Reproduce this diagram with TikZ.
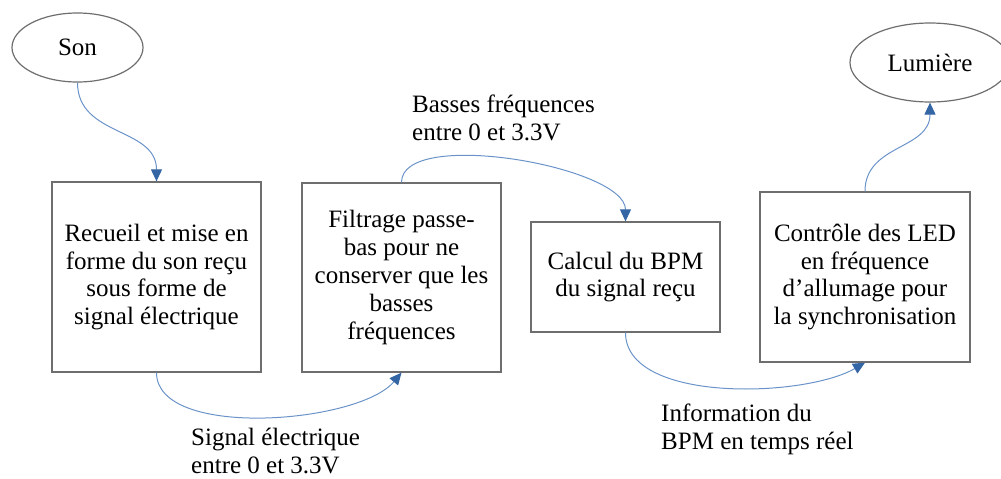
\documentclass[tikz,border=0pt]{standalone}
\usepackage{fontspec}
\setmainfont{Liberation Serif}
\usepackage{xcolor}
\usetikzlibrary{positioning, arrows.meta, shapes.geometric}
\definecolor{flowblue}{HTML}{6A93C9}
\definecolor{tipblue}{HTML}{3465A4}
\definecolor{edgegray}{HTML}{6E6E6E}

\begin{document}
\begin{tikzpicture}[
  x=1pt, y=-1pt,
  stepbox/.style={draw=edgegray, line width=1.3pt, align=center,
    inner sep=0pt, font=\fontsize{25}{27.8}\selectfont},
  endpoint/.style={draw=edgegray, line width=1.2pt, ellipse,
    inner sep=0pt, font=\fontsize{25}{27.8}\selectfont},
  label/.style={anchor=north west, align=left, inner sep=0pt,
    font=\fontsize{25}{28}\selectfont},
  arrow/.style={flowblue, line width=1pt,
    -{Triangle[length=12pt, width=11pt, fill=tipblue, color=tipblue]}},
]
\useasboundingbox (0,0) rectangle (1001,479);

% ===== Source and target =====
\node[endpoint, minimum width=131, minimum height=69] (son) at (77.5, 47.5) {Son};
\node[endpoint, minimum width=160, minimum height=79] (lum) at (930, 62.5) {Lumière};

% ===== Processing chain =====
\node[stepbox, minimum width=209, minimum height=190] (recueil) at (156.5, 277)
  {Recueil et mise en\\forme du son reçu\\sous forme de\\signal électrique};
\node[stepbox, minimum width=199, minimum height=189] (filtre) at (401.5, 277.5)
  {Filtrage passe-\\bas pour ne\\conserver que les\\basses\\fréquences};
\node[stepbox, minimum width=189, minimum height=110] (calcul) at (625.5, 277)
  {Calcul du BPM\\du signal reçu};
\node[stepbox, minimum width=210, minimum height=170] (controle) at (865, 277)
  {Contrôle des LED\\en fréquence\\d’allumage pour\\la synchronisation};

% ===== Labels on the links =====
\node[label] (lsignal) at (191, 428) {Signal électrique\\entre 0 et 3.3V};
\node[label] (lbasses) at (412, 95) {Basses fréquences\\entre 0 et 3.3V};
\node[label] (linfo) at (661, 404) {Information du\\BPM en temps réel};

% ===== Links =====
\draw[arrow] (son.south) to[out=-90, in=90, looseness=1.1] (recueil.north);
\draw[arrow] (recueil.south) to[out=-90, in=-130, looseness=0.7] (filtre.south);
\draw[arrow] (filtre.north) to[out=90, in=90, looseness=0.62] (calcul.north);
\draw[arrow] (calcul.south) to[out=-90, in=-150, looseness=0.75] (controle.south);
\draw[arrow] (controle.north) to[out=90, in=-90, looseness=1.1] (lum.south);

\end{tikzpicture}
\end{document}
